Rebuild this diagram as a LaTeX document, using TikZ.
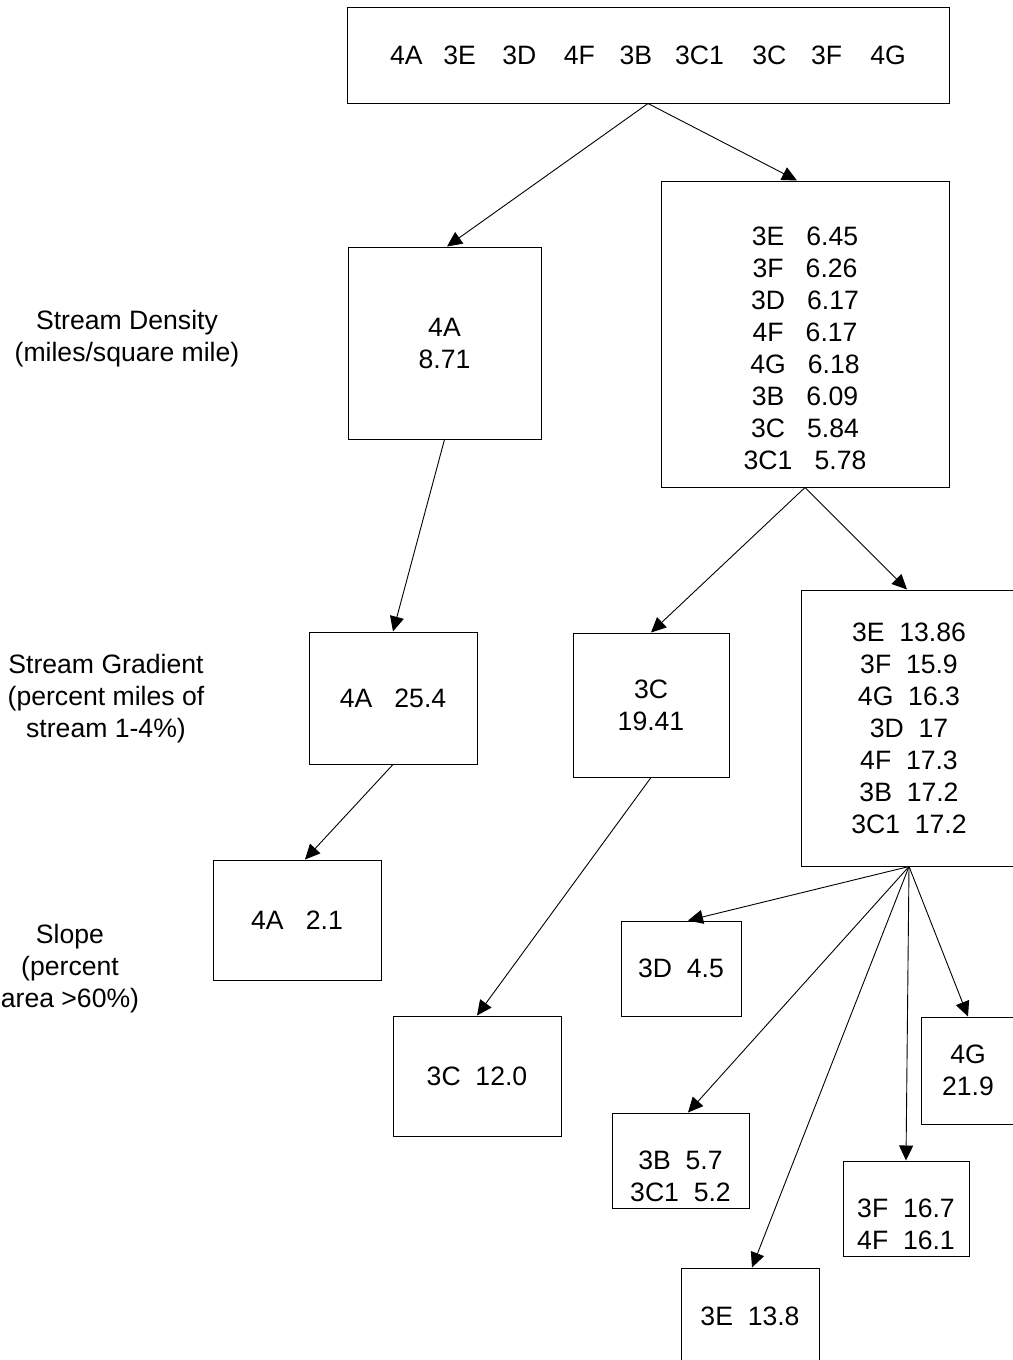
\documentclass[tikz,border=0pt]{standalone}
\usepackage{fontspec}
\setmainfont{Liberation Sans}
\usetikzlibrary{arrows.meta}
\tikzset{
  lbl/.style={font=\fontsize{26.6pt}{32pt}\selectfont, align=center, inner sep=0pt},
  box/.style={draw=black, line width=1pt, rectangle, inner sep=0pt, font=\fontsize{26.6pt}{32pt}\selectfont, align=center},
  arr/.style={draw=black, line width=0.9pt, -{Triangle[length=15pt,width=14pt]}}
}
\begin{document}
\begin{tikzpicture}[x=1pt,y=-1pt]
\useasboundingbox[fill=white] (0,0) rectangle (1012,1360);
% left labels
\node[lbl] (ldens) at (127,338.5) {Stream Density\\(miles/square mile)};
\node[lbl] (lgrad) at (106,699) {Stream Gradient\\(percent miles of\\stream 1-4\%)};
\node[lbl] (lslope) at (70,969) {Slope\\(percent\\area >60\%)};
% boxes
\node[box, minimum width=602pt, minimum height=96pt] (top) at (648,55)
 {4A\hspace{20.8pt}3E\hspace{26.5pt}3D\hspace{27.4pt}4F\hspace{24.8pt}3B\hspace{23pt}3C1\hspace{28.3pt}3C\hspace{24.8pt}3F\hspace{28.3pt}4G};
\node[box, minimum width=193pt, minimum height=192pt] (b2) at (444.5,343) {4A\\8.71};
\node[box, minimum width=288pt, minimum height=306pt] (b3) at (805,334) {};
\node[lbl] (t3) at (805,348.5) {3E~~~6.45\\3F~~~6.26\\3D~~~6.17\\4F~~~6.17\\4G~~~6.18\\3B~~~6.09\\3C~~~5.84\\3C1~~~5.78};
\node[box, minimum width=168pt, minimum height=132pt] (b4) at (393,698) {4A~~~25.4};
\node[box, minimum width=156pt, minimum height=144pt] (b5) at (651,705) {3C\\19.41};
\node[box, minimum width=216pt, minimum height=276pt] (b6) at (909,728) {3E~~13.86\\3F~~15.9\\4G~~16.3\\3D~~17\\4F~~17.3\\3B~~17.2\\3C1~~17.2};
\node[box, minimum width=168pt, minimum height=120pt] (b7) at (297,920) {4A~~~2.1};
\node[box, minimum width=120pt, minimum height=95pt] (b8) at (681,968.5) {3D~~4.5};
\node[box, minimum width=168pt, minimum height=120pt] (b9) at (477,1076) {3C~~12.0};
\node[box, minimum width=94pt, minimum height=107pt] (b10) at (968,1070.5) {4G\\21.9};
\node[box, minimum width=137pt, minimum height=95pt] (b11) at (680.5,1160.5) {};
\node[lbl] (t11) at (680.5,1176) {3B~~5.7\\3C1~~5.2};
\node[box, minimum width=126pt, minimum height=95pt] (b12) at (906,1208.5) {};
\node[lbl] (t12) at (906,1224) {3F~~16.7\\4F~~16.1};
\node[box, minimum width=138pt, minimum height=96pt] (b13) at (750,1316) {3E~~13.8};
% connectors
\draw[arr] (top.south) -- ([xshift=2.5pt]b2.north);
\draw[arr] (top.south) -- ([xshift=-8pt]b3.north);
\draw[arr] (b2.south) -- (b4.north);
\draw[arr] (b3.south) -- (b5.north);
\draw[arr] (b3.south) -- ([xshift=-2pt]b6.north);
\draw[arr] (b4.south) -- ([xshift=8pt]b7.north);
\draw[arr] (b5.south) -- (b9.north);
\draw[arr] (b6.south) -- ([xshift=7pt]b8.north);
\draw[arr] (b6.south) -- ([xshift=7.5pt]b11.north);
\draw[arr] (b6.south) -- ([xshift=2pt]b13.north);
\draw[arr] (b6.south) -- (b12.north);
\draw[arr] (b6.south) -- (b10.north);
\end{tikzpicture}
\end{document}
